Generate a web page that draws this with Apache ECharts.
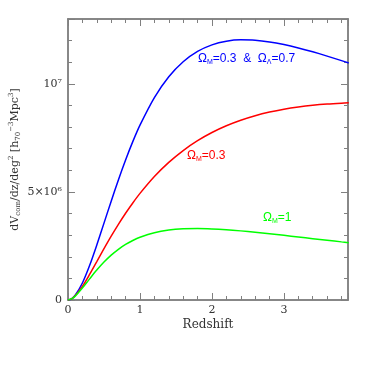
<!DOCTYPE html>
<html><head><meta charset="utf-8">
<script src="https://cdn.jsdelivr.net/npm/echarts@6/dist/echarts.min.js"></script>
<style>html,body{margin:0;padding:0;background:#fff}#c{width:367px;height:367px}</style>
</head><body><div id="c"></div>
<script>
// Redshift grid
const redshift = [0, 0.05, 0.1, 0.2, 0.3, 0.4, 0.5, 0.6, 0.7, 0.8, 0.9, 1.0, 1.2, 1.4, 1.6, 1.8, 2.0, 2.2, 2.4, 2.6, 2.8, 3.0, 3.2, 3.4, 3.6, 3.8, 3.9];
// dV_com/dz/deg^2 in units of 10^6 h70^-3 Mpc^3
const volLambda = [0, 0.057, 0.218, 0.788, 1.596, 2.544, 3.556, 4.573, 5.556, 6.478, 7.326, 8.090, 9.366, 10.329, 11.024, 11.501, 11.804, 11.972, 12.035, 12.018, 11.941, 11.818, 11.662, 11.481, 11.283, 11.074, 10.966];
const volOpen = [0, 0.053, 0.192, 0.630, 1.182, 1.776, 2.372, 2.950, 3.498, 4.012, 4.490, 4.932, 5.712, 6.367, 6.915, 7.371, 7.749, 8.060, 8.316, 8.525, 8.693, 8.827, 8.931, 9.011, 9.068, 9.107, 9.120];
const volEdS = [0, 0.052, 0.180, 0.553, 0.976, 1.385, 1.754, 2.074, 2.345, 2.570, 2.754, 2.903, 3.113, 3.235, 3.294, 3.308, 3.290, 3.252, 3.198, 3.134, 3.065, 2.991, 2.916, 2.839, 2.764, 2.689, 2.652];
const xTickValues = [0, 1, 2, 3];
const xTickText = ['0', '1', '2', '3'];
const yTickValues = [0, 5, 10];
const yTickText = ['0', '5×10⁶', '10⁷'];

const AX = '#808080';
const TXT = '#333333';
const SERIF = 'DejaVu Serif';
function lookup(v, vals, txt) {
  for (let i = 0; i < vals.length; i++) if (Math.abs(v - vals[i]) < 1e-6) return txt[i];
  return '';
}
function xAx(pos, interval, len, labels) {
  return {
    type: 'value', position: pos, min: 0, max: 3.89, interval: interval,
    axisLine: { show: true, onZero: false, lineStyle: { color: AX, width: 1.5 } },
    axisTick: { show: true, inside: true, length: len, lineStyle: { color: AX, width: 1 } },
    axisLabel: { show: labels, margin: 5, color: TXT, fontFamily: SERIF, fontSize: 11,
      formatter: v => lookup(v, xTickValues, xTickText) },
    splitLine: { show: false }
  };
}
function yAx(pos, interval, len, labels) {
  return {
    type: 'value', position: pos, min: 0, max: 13, interval: interval,
    axisLine: { show: true, onZero: false, lineStyle: { color: AX, width: 1.5 } },
    axisTick: { show: true, inside: true, length: len, lineStyle: { color: AX, width: 1 } },
    axisLabel: { show: labels, margin: 6, color: TXT, fontFamily: SERIF, fontSize: 11,
      formatter: v => lookup(v, yTickValues, yTickText) },
    splitLine: { show: false }
  };
}
const xa = [xAx('bottom', 0.2, 4, true), xAx('bottom', 1, 7, false), xAx('top', 0.2, 4, false), xAx('top', 1, 7, false)];
xa[0].name = 'Redshift';
xa[0].nameLocation = 'middle';
xa[0].nameGap = 19;
xa[0].nameMoveOverlap = false;
xa[0].nameTextStyle = { color: TXT, fontFamily: SERIF, fontSize: 12 };
const ya = [yAx('left', 1, 4, true), yAx('left', 5, 7, false), yAx('right', 1, 4, false), yAx('right', 5, 7, false)];
ya[0].name = '{m|dV}{b|com}{m|/dz/deg}{p|2}{m| [h}{b|70}{p|−3}{m|Mpc}{p|3}{m|]}';
ya[0].nameLocation = 'middle';
ya[0].nameGap = 46;
ya[0].nameMoveOverlap = false;
ya[0].nameTextStyle = {
  color: TXT, fontFamily: SERIF, fontSize: 11,
  rich: {
    m: { fontFamily: SERIF, fontSize: 11, lineHeight: 14, color: TXT },
    b: { fontFamily: SERIF, fontSize: 7, lineHeight: 7, verticalAlign: 'bottom', color: TXT },
    p: { fontFamily: SERIF, fontSize: 7, lineHeight: 7, verticalAlign: 'top', color: TXT }
  }
};

function mk(vals) { return redshift.map((z, i) => [z, vals[i]]); }
function series(name, vals, color) {
  return { name: name, type: 'line', xAxisIndex: 0, yAxisIndex: 0, data: mk(vals),
    showSymbol: false, symbol: 'none', smooth: 0.3, clip: true,
    lineStyle: { color: color, width: 1.5 }, itemStyle: { color: color } };
}
function label(x, y, parts, color) {
  return { type: 'text', left: x, top: y, z: 10,
    style: { text: parts, fill: color,
      rich: {
        a: { fontFamily: 'Liberation Sans', fontSize: 12, lineHeight: 14, fill: color },
        s: { fontFamily: 'Liberation Sans', fontSize: 7, lineHeight: 7, verticalAlign: 'bottom', fill: color }
      } } };
}
const chart = echarts.init(document.getElementById('c'), null, { renderer: 'canvas' });
chart.setOption({
  animation: false,
  backgroundColor: '#fff',
  grid: { left: 68, right: 19, top: 19, bottom: 67, containLabel: false, outerBoundsMode: 'none' },
  xAxis: xa,
  yAxis: ya,
  series: [
    series('ΩM=0.3 & ΩΛ=0.7', volLambda, '#0000ff'),
    series('ΩM=0.3', volOpen, '#ff0000'),
    series('ΩM=1', volEdS, '#00ff00')
  ],
  graphic: [
    label(198, 53, '{a|Ω}{s|M}{a|=0.3  &  Ω}{s|Λ}{a|=0.7}', '#0000ff'),
    label(187, 150, '{a|Ω}{s|M}{a|=0.3}', '#ff0000'),
    label(263, 212, '{a|Ω}{s|M}{a|=1}', '#00ff00')
  ]
});
</script></body></html>
